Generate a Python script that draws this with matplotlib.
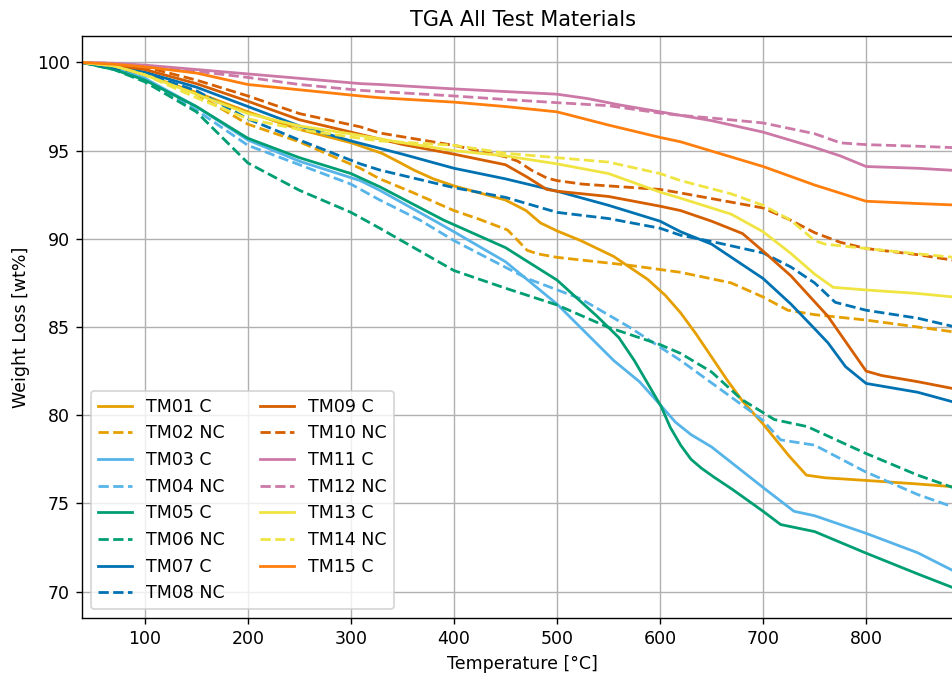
import matplotlib
matplotlib.use("Agg")
import matplotlib.pyplot as plt

# TGA curves: temperature [°C] and remaining weight [wt%] for each material
tm01_T = [39, 70, 100, 150, 200, 250, 300, 330, 345, 361, 380, 400, 425, 450, 470, 484, 500, 523, 555, 588, 605, 620, 635, 650, 665, 680, 700, 725, 742, 760, 800, 850, 894]
tm01_W = [100, 99.8, 99.3, 98.3, 97.2, 96.2, 95.45, 94.85, 94.4, 93.9, 93.4, 93.0, 92.6, 92.2, 91.6, 90.9, 90.45, 89.9, 89.0, 87.7, 86.8, 85.8, 84.6, 83.3, 82.0, 80.8, 79.5, 77.7, 76.6, 76.45, 76.3, 76.1, 75.9]

tm02_T = [39, 70, 100, 150, 200, 250, 309, 328, 361, 400, 425, 452, 462, 471, 481, 500, 523, 570, 620, 669, 700, 724, 750, 799, 850, 894]
tm02_W = [100, 99.8, 99.4, 98.2, 96.5, 95.5, 94.0, 93.4, 92.6, 91.6, 91.1, 90.5, 89.9, 89.35, 89.15, 88.95, 88.8, 88.5, 88.1, 87.5, 86.7, 85.95, 85.7, 85.4, 85.0, 84.65]

tm03_T = [39, 70, 100, 150, 200, 250, 309, 328, 380, 400, 450, 500, 555, 580, 600, 615, 630, 650, 700, 730, 750, 800, 850, 894]
tm03_W = [100, 99.7, 99.1, 97.5, 95.6, 94.4, 93.3, 92.75, 91.06, 90.4, 88.7, 86.3, 83.1, 81.9, 80.6, 79.6, 78.9, 78.2, 75.9, 74.55, 74.3, 73.3, 72.2, 70.9]

tm04_T = [39, 70, 100, 150, 200, 250, 300, 328, 367, 400, 471, 523, 570, 620, 672, 700, 717, 750, 799, 850, 894]
tm04_W = [100, 99.7, 99.1, 97.3, 95.3, 94.2, 93.1, 92.2, 91.06, 89.9, 87.75, 86.6, 85.0, 83.1, 80.9, 79.7, 78.6, 78.3, 76.8, 75.5, 74.6]

tm05_T = [39, 70, 100, 150, 200, 250, 300, 328, 390, 450, 500, 539, 560, 575, 590, 601, 610, 620, 630, 640, 652, 670, 700, 717, 750, 799, 850, 894]
tm05_W = [100, 99.6, 99.0, 97.5, 95.7, 94.6, 93.7, 92.95, 91.06, 89.5, 87.66, 85.6, 84.4, 83.1, 81.6, 80.5, 79.3, 78.3, 77.5, 77.0, 76.5, 75.8, 74.55, 73.8, 73.4, 72.2, 71.0, 70.0]

tm06_T = [39, 70, 100, 150, 200, 250, 300, 328, 400, 450, 500, 549, 600, 620, 650, 679, 711, 743, 799, 850, 894]
tm06_W = [100, 99.6, 98.9, 97.2, 94.3, 92.75, 91.5, 90.6, 88.2, 87.2, 86.25, 85.0, 84.0, 83.5, 82.45, 80.9, 79.75, 79.35, 77.85, 76.6, 75.7]

tm07_T = [39, 70, 100, 150, 200, 250, 300, 350, 400, 450, 500, 550, 600, 620, 650, 700, 727, 750, 763, 780, 800, 850, 894]
tm07_W = [100, 99.8, 99.45, 98.6, 97.5, 96.4, 95.55, 94.8, 94.0, 93.4, 92.7, 91.9, 91.0, 90.4, 89.7, 87.75, 86.3, 84.9, 84.1, 82.75, 81.8, 81.3, 80.6]

tm08_T = [39, 70, 100, 150, 200, 250, 309, 328, 400, 450, 500, 550, 600, 620, 650, 700, 727, 750, 770, 800, 850, 894]
tm08_W = [100, 99.7, 99.35, 98.4, 96.8, 95.6, 94.25, 93.9, 92.9, 92.35, 91.5, 91.15, 90.6, 90.2, 89.85, 89.2, 88.4, 87.5, 86.4, 85.95, 85.5, 84.9]

tm09_T = [39, 70, 100, 150, 200, 250, 300, 350, 400, 450, 471, 490, 500, 550, 600, 620, 650, 680, 700, 727, 763, 800, 815, 850, 894]
tm09_W = [100, 99.85, 99.6, 98.8, 97.8, 96.75, 96.05, 95.35, 94.8, 94.2, 93.5, 92.8, 92.7, 92.4, 91.85, 91.6, 91.0, 90.3, 89.3, 87.9, 85.6, 82.5, 82.25, 81.9, 81.4]

tm10_T = [39, 70, 100, 150, 200, 250, 309, 328, 400, 450, 462, 475, 490, 500, 525, 600, 620, 700, 727, 750, 775, 800, 850, 894]
tm10_W = [100, 99.9, 99.75, 99.0, 98.1, 97.1, 96.35, 96.0, 95.3, 94.65, 94.4, 93.9, 93.45, 93.3, 93.1, 92.8, 92.6, 91.75, 91.05, 90.35, 89.8, 89.45, 89.1, 88.7]

tm11_T = [39, 70, 100, 150, 200, 250, 309, 328, 400, 450, 500, 530, 560, 600, 620, 650, 700, 749, 775, 800, 850, 894]
tm11_W = [100, 99.95, 99.85, 99.6, 99.35, 99.1, 98.8, 98.75, 98.5, 98.35, 98.2, 97.95, 97.6, 97.2, 97.0, 96.7, 96.05, 95.2, 94.7, 94.1, 94.0, 93.85]

tm12_T = [39, 70, 100, 150, 200, 250, 309, 328, 400, 450, 500, 550, 600, 620, 650, 700, 750, 775, 800, 850, 894]
tm12_W = [100, 99.95, 99.8, 99.5, 99.15, 98.75, 98.42, 98.35, 98.1, 97.9, 97.72, 97.55, 97.13, 97.0, 96.85, 96.57, 95.96, 95.44, 95.34, 95.25, 95.15]

tm13_T = [39, 70, 100, 150, 200, 250, 300, 350, 400, 450, 500, 550, 600, 620, 669, 700, 727, 750, 768, 800, 850, 894]
tm13_W = [100, 99.8, 99.3, 98.2, 97.1, 96.4, 95.95, 95.45, 95.0, 94.7, 94.25, 93.7, 92.65, 92.3, 91.4, 90.4, 89.17, 88.0, 87.25, 87.1, 86.9, 86.65]

tm14_T = [39, 70, 100, 150, 200, 250, 309, 328, 400, 450, 500, 550, 600, 620, 669, 700, 727, 750, 760, 800, 850, 894]
tm14_W = [100, 99.8, 99.3, 98.0, 96.8, 96.2, 95.7, 95.55, 95.3, 94.85, 94.6, 94.35, 93.7, 93.3, 92.55, 91.9, 91.05, 89.9, 89.7, 89.45, 89.15, 88.9]

tm15_T = [39, 70, 100, 150, 200, 250, 309, 328, 400, 450, 500, 550, 600, 620, 700, 750, 800, 850, 894]
tm15_W = [100, 99.9, 99.75, 99.4, 98.75, 98.45, 98.1, 98.0, 97.75, 97.5, 97.2, 96.45, 95.75, 95.5, 94.1, 93.05, 92.13, 92.0, 91.9]

labels = ["TM01 C", "TM02 NC", "TM03 C", "TM04 NC", "TM05 C", "TM06 NC", "TM07 C", "TM08 NC",
          "TM09 C", "TM10 NC", "TM11 C", "TM12 NC", "TM13 C", "TM14 NC", "TM15 C"]
temps = [tm01_T, tm02_T, tm03_T, tm04_T, tm05_T, tm06_T, tm07_T, tm08_T,
         tm09_T, tm10_T, tm11_T, tm12_T, tm13_T, tm14_T, tm15_T]
weights = [tm01_W, tm02_W, tm03_W, tm04_W, tm05_W, tm06_W, tm07_W, tm08_W,
           tm09_W, tm10_W, tm11_W, tm12_W, tm13_W, tm14_W, tm15_W]
colors = ["#E69F00", "#E69F00", "#56B4E9", "#56B4E9", "#009E73", "#009E73", "#0072B2", "#0072B2",
          "#D55E00", "#D55E00", "#CC79A7", "#CC79A7", "#F0E442", "#F0E442", "#FF7F0E"]
styles = ["-", "--"] * 7 + ["-"]

fig = plt.figure(figsize=(952 / 125, 676 / 125), dpi=125)
ax = fig.add_axes([82 / 952, 1 - 618 / 676, (963 - 82) / 952, (618 - 36) / 676])

for T, W, c, ls, lab in zip(temps, weights, colors, styles, labels):
    ax.plot(T, W, color=c, linestyle=ls, linewidth=1.6, label=lab)

ax.set_xlim(39, 894)
ax.set_title("TGA All Test Materials")
ax.set_xlabel("Temperature [°C]")
ax.set_ylabel("Weight Loss [wt%]")
ax.grid(True)
ax.legend(loc="lower left", ncol=2)

fig.savefig("out.png", dpi=125)
